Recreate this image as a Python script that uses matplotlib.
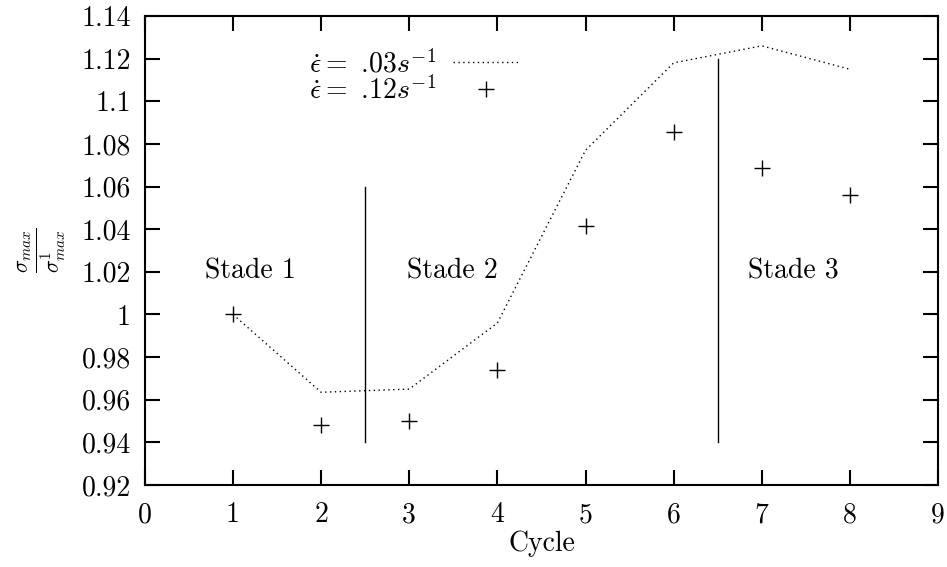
import matplotlib
matplotlib.use("Agg")
import matplotlib.pyplot as plt

plt.rcParams['font.family'] = ['cmr10', 'DejaVu Serif']
plt.rcParams['mathtext.fontset'] = 'cm'
plt.rcParams['axes.formatter.use_mathtext'] = True

# data
cycles = [1, 2, 3, 4, 5, 6, 7, 8]
ratio_slow = [1.0, 0.9635, 0.965, 0.996, 1.077, 1.118, 1.126, 1.115]
ratio_fast = [1.0, 0.948, 0.950, 0.974, 1.0415, 1.0855, 1.0685, 1.056]

stage_bounds = [2.5, 6.5]
stage_tops = [1.06, 1.12]
stage_names = ["Stade 1", "Stade 2", "Stade 3"]
stage_x = [0.68, 2.98, 6.84]

xticks = [0, 1, 2, 3, 4, 5, 6, 7, 8, 9]
yticks = [0.92, 0.94, 0.96, 0.98, 1.0, 1.02, 1.04, 1.06, 1.08, 1.1, 1.12, 1.14]
ytick_labels = ["0.92", "0.94", "0.96", "0.98", "1", "1.02", "1.04", "1.06",
                "1.08", "1.1", "1.12", "1.14"]

fs = 20

fig = plt.figure(figsize=(9.47, 5.67), dpi=100)
ax = fig.add_axes([0.153, 0.1446, 0.8375, 0.8272])

ax.plot(cycles, ratio_slow, color='black', linestyle=(0, (1, 2.5)), linewidth=1.0,
        label=r'$\dot{\epsilon} =$ .03$s^{-1}$')
ax.plot(cycles, ratio_fast, color='black', linestyle='none', marker='+',
        markersize=12, markeredgewidth=1.0, label=r'$\dot{\epsilon} =$ .12$s^{-1}$')

for xb, top in zip(stage_bounds, stage_tops):
    ax.plot([xb, xb], [0.94, top], color='black', linewidth=1.0)

for name, xs in zip(stage_names, stage_x):
    ax.text(xs, 1.02, name, fontsize=fs, ha='left', va='center')

ax.set_xlim(0, 9)
ax.set_ylim(0.92, 1.14)
ax.set_xticks(xticks)
ax.set_xticklabels([str(t) for t in xticks])
ax.set_yticks(yticks)
ax.set_yticklabels(ytick_labels)
ax.tick_params(direction='in', length=11, width=1.5, top=True, right=True,
               labelsize=fs)
ax.tick_params(axis='y', pad=10)
ax.tick_params(axis='x', pad=12)
for sp in ax.spines.values():
    sp.set_linewidth(1.5)

ax.set_xlabel("Cycle", fontsize=fs, labelpad=2)
ax.set_ylabel(r'$\frac{\sigma_{max}}{\sigma^1_{max}}$', fontsize=22, labelpad=10)

ax.legend(loc='upper right', bbox_to_anchor=(0.49, 0.958), frameon=False,
          markerfirst=False, fontsize=fs, handlelength=2.4, labelspacing=-0.08,
          handletextpad=0.6, borderpad=0)

fig.savefig("out.png", dpi=100)
